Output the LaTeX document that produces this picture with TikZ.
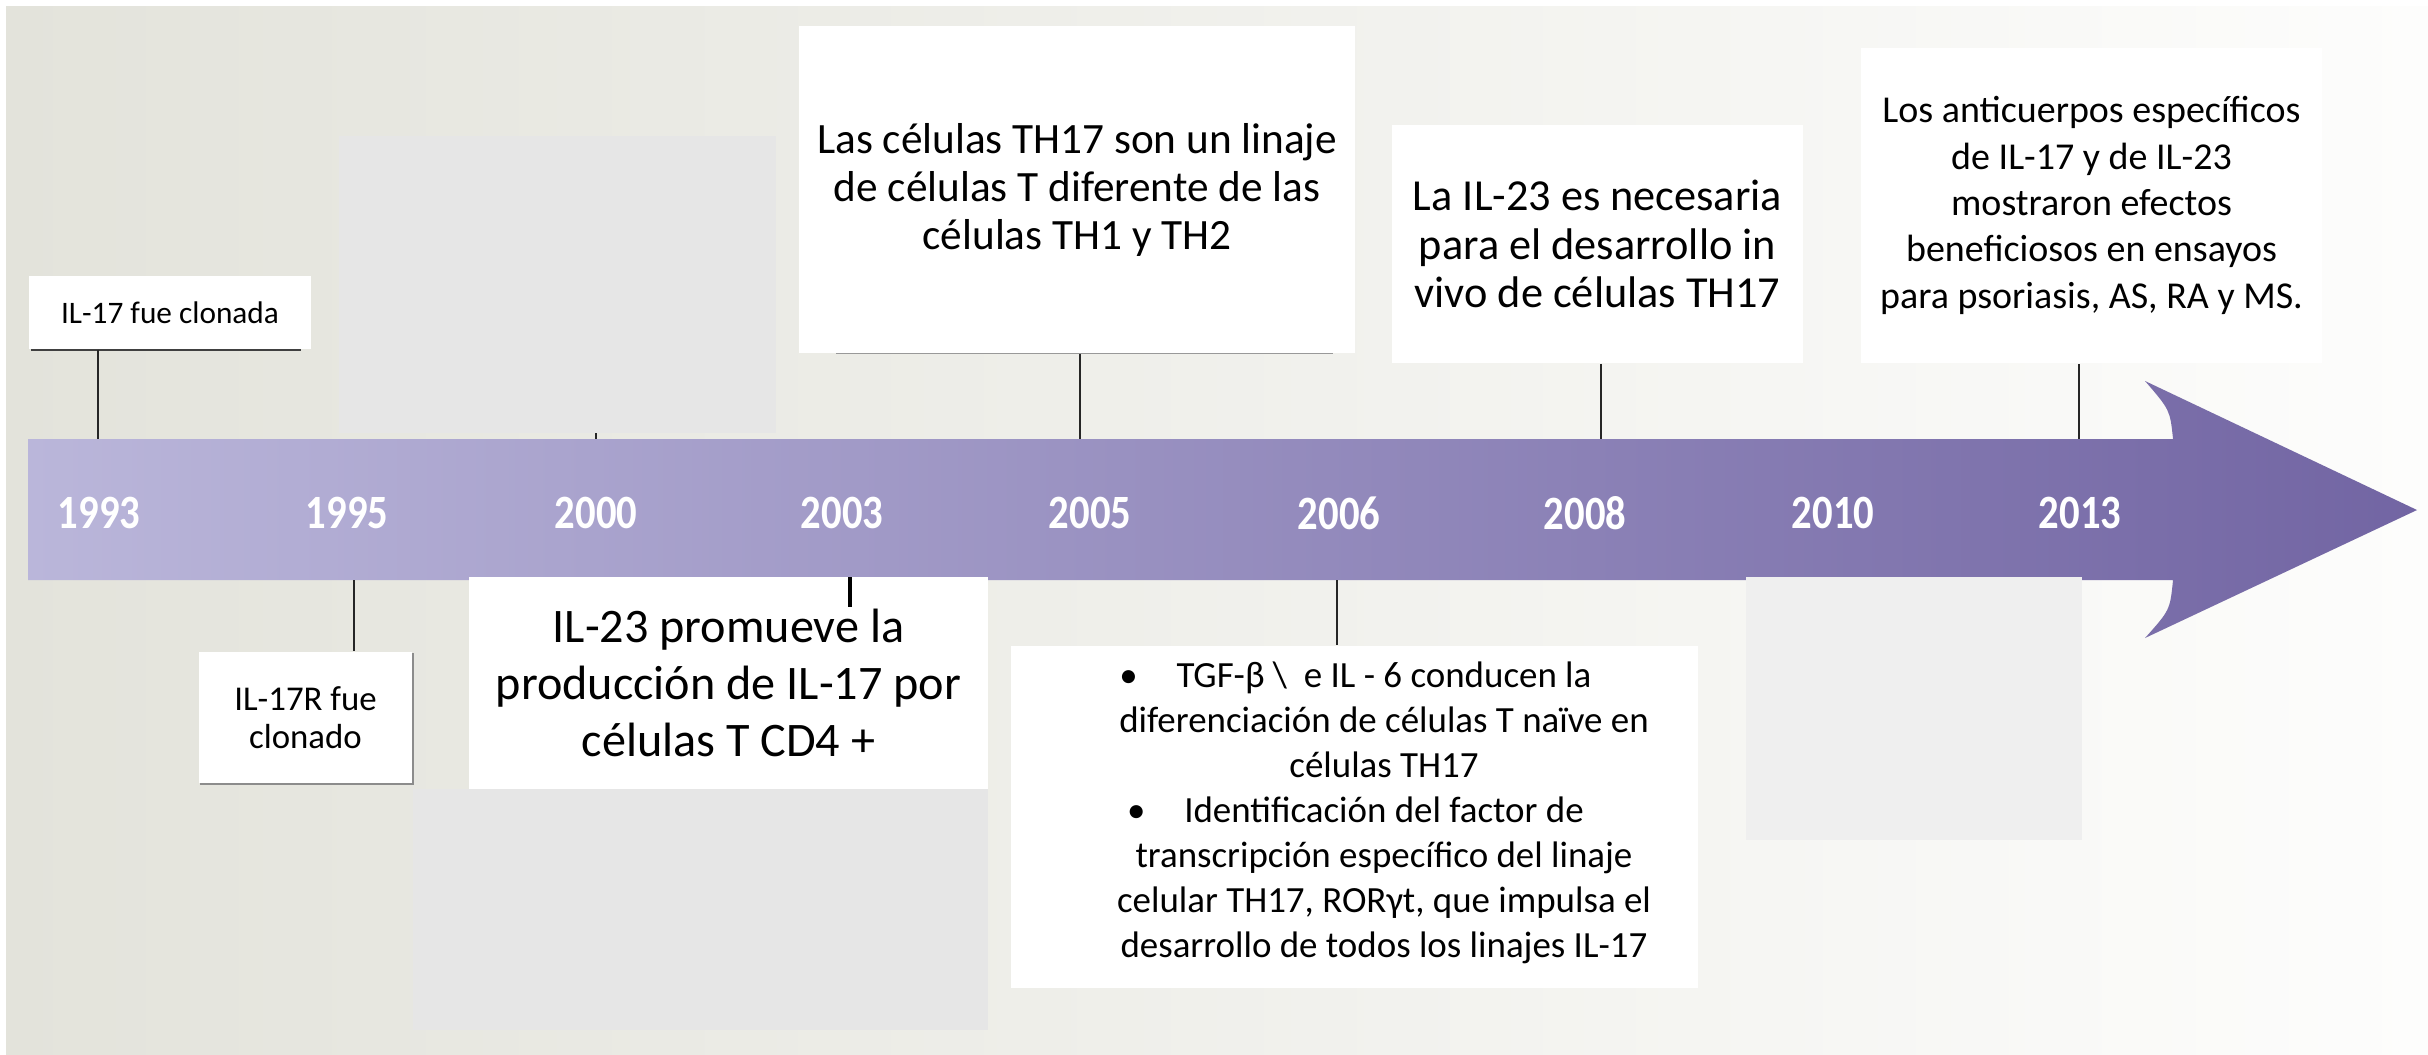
\documentclass[tikz,border=0pt]{standalone}
\usepackage{fontspec}
\setmainfont{Carlito}
\begin{document}
\begin{tikzpicture}[x=0.01cm,y=-0.01cm]
\definecolor{bgL}{HTML}{E3E3DB}
\definecolor{bgR}{HTML}{FDFDFC}
\definecolor{arL}{HTML}{BAB6DA}
\definecolor{arR}{HTML}{7265A3}
\definecolor{ghostA}{HTML}{E6E6E6}
\definecolor{ghostB}{HTML}{EFEFEF}
\tikzset{
  card/.style={fill=white, inner sep=0pt, align=center, anchor=center},
  yearlbl/.style={text=white, font=\fontsize{13.6pt}{16pt}\selectfont\bfseries, inner sep=0pt},
  conn/.style={draw=black!85, line width=0.55pt},
}
\newcommand{\hangbullet}{\makebox[0pt][r]{\textbullet\hspace{11pt}}}
\useasboundingbox (0,0) rectangle (2428,1054);
% background
\fill[white] (0,0) rectangle (2428,1054);
\shade[left color=bgL, right color=bgR] (6,6) rectangle (2428,1054);
% ghost rectangles
\fill[ghostA] (339,136) rectangle (776,433);
% arrow
\shade[left color=arL, right color=arR]
  (28,439) -- (2173,439) .. controls (2170,410) .. (2145,381)
  -- (2417,510) -- (2145,638) .. controls (2170,610) .. (2173,580)
  -- (28,580) -- cycle;
\fill[ghostA] (413,789) rectangle (988,1030);
\fill[ghostB] (1746,577) rectangle (2082,840);
% boxes
\draw[black!75, line width=0.8pt] (32,345) -- (32,350) -- (300,350) -- (300,345);
\node[card, minimum width=2.82cm, minimum height=0.73cm, font=\fontsize{8.9pt}{10.6pt}\selectfont] (b1993) at (170,312.5) {IL-17 fue clonada};
\draw[black!45, line width=0.5pt] (200,784) -- (413,784) -- (413,653);
\node[card, minimum width=2.13cm, minimum height=1.31cm, font=\fontsize{9.9pt}{10.8pt}\selectfont] (b1995) at (305.5,717.5) {IL-17R fue\\clonado};
\node[card, minimum width=5.19cm, minimum height=2.12cm, font=\fontsize{13.7pt}{16.2pt}\selectfont] (b2003) at (728.5,683) {IL-23 promueve la\\producción de IL-17 por\\células T CD4 +};
\draw[black!40, line width=0.4pt] (836,353.5) -- (1333,353.5);
\node[card, minimum width=5.56cm, minimum height=3.27cm, font=\fontsize{12.3pt}{13.66pt}\selectfont] (b2005) at (1077,189.5) {Las células TH17 son un linaje\\de células T diferente de las\\células TH1 y TH2};
\node[card, minimum width=6.87cm, minimum height=3.42cm] (b2006) at (1354.5,817) {};
\node[align=center, inner sep=0pt, font=\fontsize{10.5pt}{12.8pt}\selectfont] (t2006) at (1384,813) {\hangbullet TGF-β \textbackslash\ \ e IL - 6 conducen la\\diferenciación de células T naïve en\\células TH17\\\hangbullet Identificación del factor de\\transcripción específico del linaje\\celular TH17, RORγt, que impulsa el\\desarrollo de todos los linajes IL-17};
\node[card, minimum width=4.11cm, minimum height=2.38cm, font=\fontsize{12.6pt}{13.9pt}\selectfont] (b2008) at (1597.5,244) {La IL-23 es necesaria\\para el desarrollo in\\vivo de células TH17};
\node[card, minimum width=4.61cm, minimum height=3.15cm, font=\fontsize{10.8pt}{13.2pt}\selectfont] (b2013) at (2091.5,205.5) {Los anticuerpos específicos\\de IL-17 y de IL-23\\mostraron efectos\\beneficiosos en ensayos\\para psoriasis, AS, RA y MS.};
% connectors
\coordinate (a1993) at (97.6,439);
\coordinate (a1995) at (354,580);
\coordinate (a2000) at (596,439);
\coordinate (g2000) at (596,433);
\coordinate (a2003) at (850,577);
\coordinate (e2003) at (850,607);
\coordinate (a2005) at (1080,439);
\coordinate (a2006) at (1337,580);
\coordinate (a2008) at (1600.6,439);
\coordinate (a2013) at (2078.5,439);
\draw[conn] (b1993.south -| a1993) -- (a1993);
\draw[conn] (a1995) -- (b1995.north -| a1995);
\draw[conn] (g2000) -- (a2000);
\draw[draw=black, line width=1.4pt] (a2003) -- (e2003);
\draw[conn] (b2005.south -| a2005) -- (a2005);
\draw[conn] (a2006) -- (b2006.north -| a2006);
\draw[conn] (b2008.south -| a2008) -- (a2008);
\draw[conn] (b2013.south -| a2013) -- (a2013);
% years
\foreach \yr/\xx in {1993/99,1995/347,2000/596,2003/842,2005/1090,2006/1339,2008/1585,2010/1833,2013/2080}{
  \node[yearlbl] (y\yr) at (\xx,513) {\scalebox{0.85}[1]{\yr}};
}
\end{tikzpicture}
\end{document}
